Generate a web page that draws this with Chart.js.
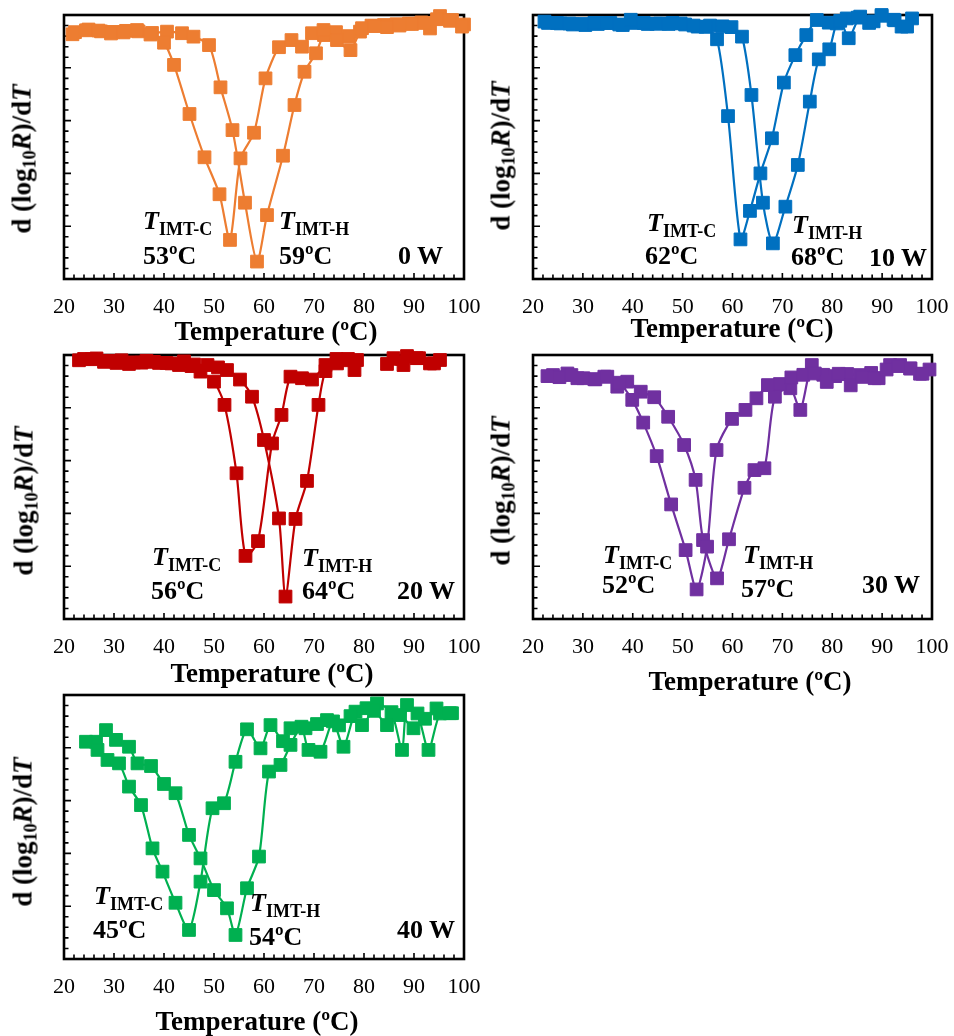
<!DOCTYPE html>
<html>
<head>
<meta charset="utf-8">
<script src="https://cdn.jsdelivr.net/npm/chart.js@4.4.1/dist/chart.umd.min.js"></script>
<style>
  body { margin: 0; background: #fff; width: 954px; height: 1036px; position: relative; overflow: hidden;
         font-family: "Liberation Serif", "Times New Roman", serif; color: #000; }
  .panel { position: absolute; }
  .txt { position: absolute; font-weight: bold; line-height: 1; white-space: nowrap; }
  .ann { font-size: 26px; }
  .ann .sb { font-size: 18px; position: relative; top: 6px; }
  .ytitle { font-size: 27px; transform: translate(-50%, -50%) rotate(-90deg); }
  .ytitle .ys { font-size: 18px; position: relative; top: 5px; }
  .xtitle { font-size: 27px; transform: translateX(-50%); }
  .pw { font-size: 26px; transform: translateX(-100%); }
</style>
</head>
<body>
<script>
// ===================== DATA: d(log10 R)/dT sweeps ===================== //
// cooling sweep (T_IMT-C) and heating sweep (T_IMT-H) for each power

// 0 W
const temp0Cool = [21.7, 24.4, 26.9, 29.4, 31.9, 34.6, 37.3, 40.0, 42.0, 45.1, 48.1, 51.1, 53.2, 55.3, 58.0, 60.3, 63.0, 65.5, 67.6, 69.6, 71.9, 74.6, 77.3, 79.6, 82.1, 84.6, 87.1, 89.6, 92.1, 94.6, 97.2, 99.6];
const dr0Cool = [-7.3, -5.8, -5.9, -7.0, -6.6, -5.7, -7.4, -10.5, -18.9, -37.5, -53.9, -67.9, -85.2, -54.3, -44.6, -24.0, -12.2, -9.5, -12.0, -6.9, -5.7, -9.5, -13.3, -5.0, -4.2, -4.6, -4.0, -3.4, -3.0, -1.6, -2.2, -4.4];
const temp0Heat = [22.2, 24.9, 27.4, 29.9, 32.4, 34.9, 37.6, 40.6, 43.6, 45.9, 49.0, 51.3, 53.7, 56.2, 58.6, 60.6, 63.8, 66.1, 68.1, 70.4, 72.0, 74.4, 77.0, 79.2, 81.5, 84.0, 86.5, 89.0, 91.5, 93.2, 95.2, 97.6, 100.0];
const dr0Heat = [-6.5, -5.5, -6.2, -6.4, -6.0, -6.2, -6.8, -6.3, -6.9, -8.2, -11.4, -27.4, -43.6, -71.1, -93.4, -75.8, -53.3, -34.1, -21.5, -14.5, -7.6, -6.5, -8.0, -6.3, -4.0, -3.8, -3.5, -3.2, -2.8, -5.1, -0.4, -1.9, -3.6];

// 10 W
const temp10Cool = [22.3, 24.8, 27.3, 29.8, 32.3, 34.8, 37.3, 39.6, 42.2, 44.7, 47.2, 49.6, 52.2, 54.6, 56.9, 59.1, 61.6, 63.5, 65.6, 67.9, 70.3, 72.6, 74.8, 76.9, 79.3, 81.6, 83.3, 85.6, 88.3, 89.9, 92.5, 95.0];
const dr10Cool = [-2.5, -3.0, -3.2, -3.4, -3.0, -3.0, -3.6, -1.8, -3.0, -3.3, -3.4, -3.2, -4.0, -4.5, -9.2, -38.3, -85.0, -74.2, -60.0, -46.7, -25.6, -15.2, -7.6, -1.9, -2.9, -2.2, -8.8, -0.6, -2.4, -0.3, -2.0, -4.4];
const temp10Heat = [23.0, 25.5, 28.0, 30.5, 33.0, 35.5, 38.0, 40.5, 43.0, 45.5, 48.0, 50.5, 53.0, 55.5, 58.0, 59.8, 61.9, 63.8, 66.1, 68.1, 70.6, 73.1, 75.5, 77.3, 79.4, 80.9, 82.9, 85.1, 87.4, 89.9, 92.3, 93.9, 96.0];
const dr10Heat = [-3.0, -3.2, -3.6, -3.8, -3.4, -3.0, -3.8, -3.0, -3.4, -3.2, -3.0, -3.6, -4.4, -4.0, -4.3, -4.6, -8.2, -30.3, -71.1, -86.5, -72.6, -56.8, -32.8, -16.8, -13.0, -3.2, -1.3, -1.0, -3.0, 0.0, -1.8, -4.4, -1.3];

// 20 W (no readings between ~79 and ~84 degC)
const temp20Cool = [23.0, 25.5, 28.0, 30.5, 33.0, 35.5, 38.0, 40.5, 43.0, 45.5, 47.3, 50.0, 52.1, 54.5, 56.3, 58.8, 61.6, 63.5, 65.3, 67.6, 69.6, 72.3, 74.5, 76.8, 78.6, 81.0, 84.6, 87.9, 90.5, 93.2, 95.2];
const dr20Cool = [-2.0, -1.6, -2.6, -3.0, -3.4, -2.9, -2.6, -3.0, -3.8, -4.2, -6.3, -10.1, -18.9, -44.8, -76.1, -70.5, -33.5, -22.7, -8.2, -8.8, -9.3, -3.8, -1.5, -1.5, -1.9, null, -3.4, -3.8, -1.2, -3.2, -1.9];
const temp20Heat = [24.0, 26.5, 29.0, 31.5, 34.0, 36.5, 39.0, 41.5, 44.0, 46.0, 48.7, 50.8, 52.6, 55.2, 57.6, 60.0, 63.0, 64.3, 66.3, 68.6, 70.9, 72.3, 74.6, 76.6, 78.1, 81.0, 85.9, 88.6, 91.0, 94.0];
const dr20Heat = [-1.5, -1.3, -2.2, -2.0, -2.8, -2.2, -3.0, -3.2, -2.4, -3.6, -3.8, -4.7, -5.7, -9.3, -15.8, -32.2, -61.9, -91.5, -62.1, -47.7, -18.9, -6.1, -3.2, -2.0, -5.7, null, -1.2, -0.4, -1.2, -3.2];

// 30 W
const temp30Cool = [22.9, 25.3, 27.7, 30.1, 32.5, 34.9, 37.3, 39.9, 42.1, 44.8, 47.7, 50.6, 52.8, 54.9, 56.8, 59.9, 62.6, 64.8, 67.1, 69.5, 71.8, 74.2, 76.5, 78.9, 81.3, 83.7, 86.1, 88.5, 90.9, 93.3, 95.7, 98.1];
const dr30Cool = [-8.0, -8.4, -7.6, -8.8, -9.2, -8.2, -10.5, -17.0, -25.6, -38.3, -56.6, -73.9, -88.8, -72.6, -36.0, -24.2, -20.8, -16.4, -11.4, -11.0, -8.5, -7.5, -7.0, -10.2, -7.1, -11.5, -8.3, -8.8, -5.5, -4.2, -5.1, -7.1];
const temp30Heat = [24.0, 26.9, 28.9, 32.3, 34.3, 36.9, 38.9, 41.6, 44.3, 47.1, 50.3, 52.6, 54.1, 56.9, 59.3, 62.4, 64.4, 66.4, 68.5, 71.6, 73.6, 75.9, 78.2, 80.6, 83.0, 85.6, 87.8, 89.3, 91.6, 93.6, 95.6, 97.6, 99.5];
const dr30Heat = [-7.6, -7.0, -8.8, -9.2, -8.2, -12.0, -10.1, -13.9, -16.0, -23.4, -34.1, -47.3, -70.1, -84.6, -69.8, -50.3, -43.6, -42.9, -15.8, -12.6, -20.8, -3.8, -7.5, -8.0, -7.2, -7.6, -6.8, -8.8, -3.8, -3.8, -5.1, -7.1, -5.5];

// 40 W
const temp40Cool = [24.4, 26.7, 28.7, 31.0, 33.0, 35.4, 37.7, 39.7, 42.3, 45.0, 47.3, 49.7, 52.0, 54.3, 56.6, 59.3, 61.3, 63.8, 65.3, 68.3, 70.6, 72.6, 75.0, 77.3, 79.6, 82.0, 84.6, 87.2, 89.9, 92.2, 94.5, 97.2];
const dr40Cool = [-17.7, -20.8, -24.6, -25.9, -34.7, -41.7, -58.1, -66.9, -78.7, -89.0, -70.7, -42.9, -41.0, -25.3, -13.0, -20.2, -11.4, -17.5, -12.6, -12.6, -11.0, -9.5, -11.5, -8.0, -11.4, -6.0, -11.4, -7.6, -12.6, -9.0, -5.1, -6.9];
const temp40Heat = [26.4, 28.4, 30.4, 33.0, 34.7, 37.4, 40.0, 42.3, 45.0, 47.3, 50.0, 52.6, 54.3, 56.6, 59.0, 61.0, 63.3, 65.3, 67.5, 68.9, 71.3, 73.8, 75.9, 78.3, 80.5, 82.6, 85.5, 87.6, 88.6, 90.7, 92.9, 95.2, 97.6];
const dr40Heat = [-17.7, -13.3, -17.0, -19.6, -25.9, -26.9, -33.7, -37.2, -53.0, -61.9, -73.9, -80.8, -90.9, -73.2, -61.2, -29.0, -26.5, -18.9, -12.0, -20.8, -21.5, -10.0, -19.6, -6.3, -5.0, -3.2, -6.5, -20.8, -3.8, -7.0, -20.8, -7.0, -6.9];

// labels
const powers = ["0 W", "10 W", "20 W", "30 W", "40 W"];
const coolPeaks = ["53ºC", "62ºC", "56ºC", "52ºC", "45ºC"];
const heatPeaks = ["59ºC", "68ºC", "64ºC", "57ºC", "54ºC"];
const xTickLabels = [20, 30, 40, 50, 60, 70, 80, 90, 100];
const colors = ["#ED7D31", "#0070C0", "#C00000", "#7030A0", "#00B050"];

const sweeps = [
    [temp0Cool, dr0Cool, temp0Heat, dr0Heat],
    [temp10Cool, dr10Cool, temp10Heat, dr10Heat],
    [temp20Cool, dr20Cool, temp20Heat, dr20Heat],
    [temp30Cool, dr30Cool, temp30Heat, dr30Heat],
    [temp40Cool, dr40Cool, temp40Heat, dr40Heat]
];


// ===================== LAYOUT ===================== //
const PAD_L = 25, PAD_R = 35, PAD_T = 12, AXIS_H = 45, BOX_H = 264;
const FONT = '"Liberation Serif", "Times New Roman", serif';

// plot box of every panel (page pixels)
const boxes = [
    { l: 63, t: 15, w: 401 },
    { l: 532, t: 15, w: 400 },
    { l: 63, t: 355, w: 401 },
    { l: 532, t: 355, w: 400 },
    { l: 63, t: 695, w: 401 }
];

// text spots: c/h = T labels, cv/hv = peak temps, p = power (from right), relative to box;
// yt/xt = axis title centre / cap top on the page
const spots = [
    { c: [80, 198], cv: [80, 233], h: [216, 198], hv: [216, 233], p: [21, 233], yt: [25, 159], xt: [276, 323] },
    { c: [115, 200], cv: [113, 233], h: [260, 202], hv: [259, 234], p: [5, 235], yt: [504, 156], xt: [732, 320] },
    { c: [89, 194], cv: [88, 228], h: [239, 195], hv: [239, 228], p: [9, 228], yt: [27, 501], xt: [272, 665] },
    { c: [71, 192], cv: [70, 222], h: [211, 192], hv: [209, 226], p: [12, 222], yt: [504, 491], xt: [750, 673] },
    { c: [31, 193], cv: [30, 227], h: [187, 200], hv: [186, 234], p: [9, 227], yt: [26, 832], xt: [257, 1013] }
];


// ===================== FRAME + INWARD TICKS ===================== //
const frameTicks = {
    id: "frameTicks",
    beforeDatasetsDraw(chart) {
        const { ctx, chartArea: a, scales } = chart;
        ctx.save();
        ctx.strokeStyle = "#000";
        ctx.lineWidth = 1.6;
        ctx.beginPath();
        scales.x.ticks.forEach(t => {
            const px = scales.x.getPixelForValue(t.value);
            const len = t.value % 10 === 0 ? 6 : 4.5;
            ctx.moveTo(px, a.bottom);
            ctx.lineTo(px, a.bottom - len);
        });
        scales.y.ticks.forEach(t => {
            const py = scales.y.getPixelForValue(t.value);
            const len = t.value % 20 === 0 ? 7 : 4.5;
            ctx.moveTo(a.left, py);
            ctx.lineTo(a.left + len, py);
        });
        ctx.stroke();
        ctx.lineWidth = 2.6;
        ctx.strokeRect(a.left, a.top, a.right - a.left, a.bottom - a.top);
        ctx.restore();
    }
};

function points(temps, vals) {
    return temps.map((x, i) => ({ x: x, y: vals[i] }));
}

function sweepDataset(temps, vals, color) {
    return {
        data: points(temps, vals),
        borderColor: color,
        backgroundColor: color,
        borderWidth: 2.2,
        tension: 0.25,
        spanGaps: false,
        pointStyle: "rect",
        pointRadius: 9,
        pointBorderWidth: 1,
        pointBackgroundColor: color,
        pointBorderColor: color,
        clip: false
    };
}

function addText(html, cls, left, top) {
    const d = document.createElement("div");
    d.className = "txt " + cls;
    d.innerHTML = html;
    d.style.left = left + "px";
    d.style.top = top + "px";
    document.body.appendChild(d);
}

// cap-top offset of a line-height:1 block in Liberation Serif
const capOff = fs => fs * 0.1755;


// ===================== BUILD PANELS ===================== //
boxes.forEach((b, i) => {
    const wrap = document.createElement("div");
    wrap.className = "panel";
    wrap.style.left = (b.l - PAD_L) + "px";
    wrap.style.top = (b.t - PAD_T) + "px";
    const canvas = document.createElement("canvas");
    canvas.width = b.w + PAD_L + PAD_R;
    canvas.height = BOX_H + PAD_T + AXIS_H;
    wrap.appendChild(canvas);
    document.body.appendChild(wrap);

    const [tc, vc, th, vh] = sweeps[i];

    new Chart(canvas, {
        type: "line",
        data: { datasets: [sweepDataset(tc, vc, colors[i]), sweepDataset(th, vh, colors[i])] },
        options: {
            responsive: false,
            animation: false,
            devicePixelRatio: 1,
            layout: { padding: { left: PAD_L, right: PAD_R, top: PAD_T, bottom: 0 } },
            plugins: { legend: { display: false }, tooltip: { enabled: false } },
            scales: {
                x: {
                    type: "linear", min: 20, max: 100,
                    grid: { display: false, drawTicks: false },
                    border: { display: false },
                    ticks: {
                        stepSize: 2, autoSkip: false, maxRotation: 0, padding: 15,
                        color: "#000", font: { family: FONT, size: 22 },
                        callback: v => xTickLabels.includes(v) ? String(v) : ""
                    },
                    afterFit: s => { s.height = AXIS_H; }
                },
                y: {
                    min: -100, max: 0,
                    grid: { display: false, drawTicks: false },
                    border: { display: false },
                    ticks: { display: false, stepSize: 4 },
                    afterFit: s => { s.width = 0; }
                }
            }
        },
        plugins: [frameTicks]
    });

    // annotations
    const s = spots[i];
    const tLabel = sub => "<i>T</i><span class='sb'>" + sub + "</span>";
    addText(tLabel("IMT-C"), "ann", b.l + s.c[0], b.t + s.c[1] - capOff(26));
    addText(coolPeaks[i], "ann", b.l + s.cv[0], b.t + s.cv[1] - capOff(26));
    addText(tLabel("IMT-H"), "ann", b.l + s.h[0], b.t + s.h[1] - capOff(26));
    addText(heatPeaks[i], "ann", b.l + s.hv[0], b.t + s.hv[1] - capOff(26));
    addText(powers[i], "pw", b.l + b.w - s.p[0], b.t + s.p[1] - capOff(26));

    // axis titles
    addText("d (log<span class='ys'>10</span><i>R</i>)/d<i>T</i>", "ytitle", s.yt[0] - 3, s.yt[1]);
    addText("Temperature (ºC)", "xtitle", s.xt[0], s.xt[1] - capOff(27));
});
</script>
</body>
</html>
